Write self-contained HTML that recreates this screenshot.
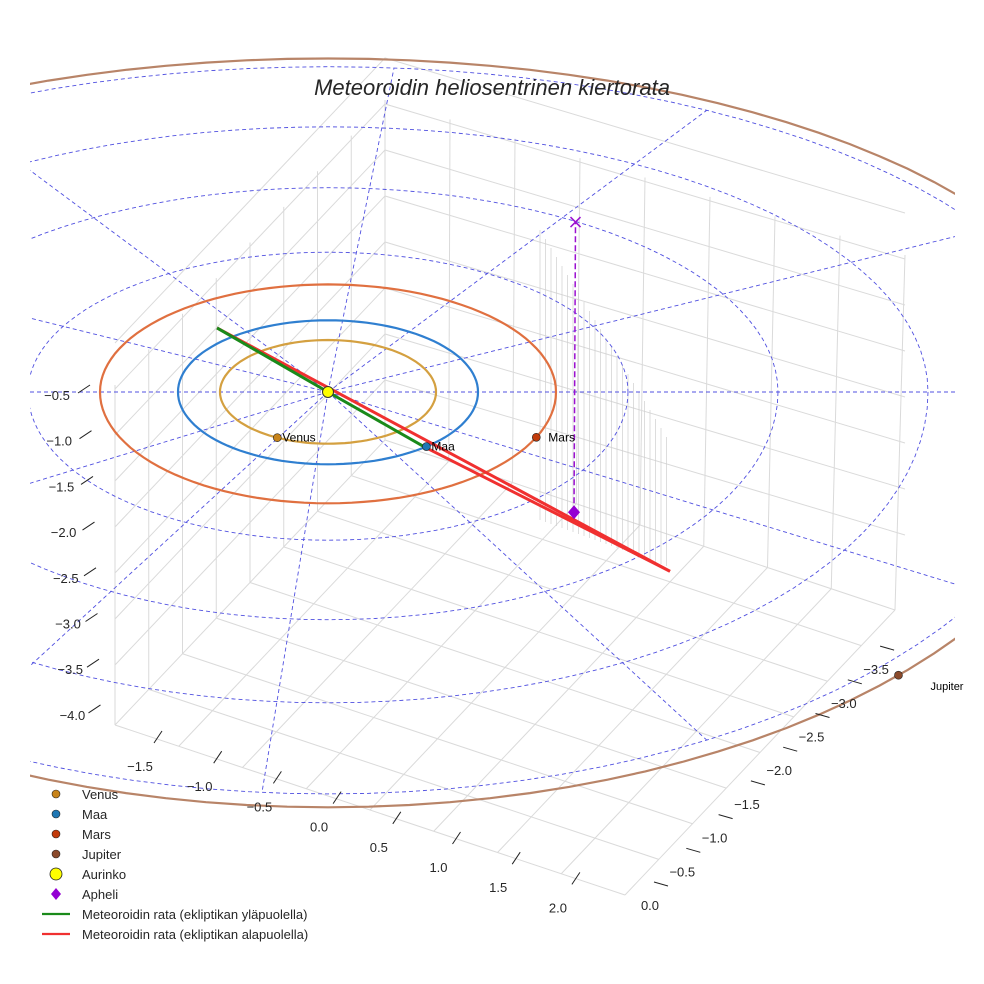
<!DOCTYPE html>
<html><head><meta charset="utf-8"><style>
body{margin:0;background:#fff}
svg{display:block}
text{font-family:"Liberation Sans",sans-serif}
</style></head><body>
<svg id="chart" width="984" height="984" viewBox="0 0 984 984">
<defs><clipPath id="plotclip"><rect x="30" y="0" width="925" height="984"/></clipPath></defs>
<rect width="984" height="984" fill="#fff"/>
<g id="box"></g>
<g id="rings" clip-path="url(#plotclip)"></g>
<g id="orbits" clip-path="url(#plotclip)"></g>
<g id="met"></g>
<g id="marks"></g>
<g id="ticks"></g>
<text x="492" y="95" text-anchor="middle" font-size="22" font-style="italic" fill="#262626">Meteoroidin heliosentrinen kiertorata</text>
<g id="legend"></g>
</svg>
<script>
// data
const planetNames = ["Venus","Maa","Mars","Jupiter"];
const planetRadius = [0.72,1.0,1.52,5.2];
const planetAngle = [118,49,24,43];
const planetColor = ["#c8841a","#1f77b4","#c23b0b","#8b4a2b"];
const orbitColor = ["#d4a040","#2f7fd0","#e07040","#b88468"];
const ringRadius = [2,3,4,5.05];
const spokeAngle = [0,30,60,95,120,150,180,210,240,275,300,330];
const metUpper = [[-0.74,-0.89,0],[2.28,2.49,0]];
const metLower = [[2.28,2.49,0],[0.64,0.76,0]];
const metAbove = [[0.64,0.76,0],[0,0,0],[-0.74,-0.89,0]];
const apheli = [1.64,1.67,0];
const apheliTop = [1.65,-2.36,0];
const zTicks = ["−0.5","−1.0","−1.5","−2.0","−2.5","−3.0","−3.5","−4.0"];
const xTicks = ["−1.5","−1.0","−0.5","0.0","0.5","1.0","1.5","2.0"];
const yTicks = ["0.0","−0.5","−1.0","−1.5","−2.0","−2.5","−3.0","−3.5"];

const NS="http://www.w3.org/2000/svg";
const CX=328,CY=392,SX=150,SY=72,SZ=128;
function proj(x,y,z){return [CX+SX*x, CY+SY*y - SZ*z];}
function polar(r,deg){
  const a=deg*Math.PI/180, c=Math.cos(a), s=Math.sin(a);
  const ry = s<0 ? (0.49-0.012*r) : (0.47+0.012*r);
  return [CX+SX*r*c, CY+SX*r*ry*s*(SY/SX)/0.48];
}
function mk(tag,attrs,parent){const e=document.createElementNS(NS,tag);for(const k in attrs)e.setAttribute(k,attrs[k]);parent.appendChild(e);return e;}
function ringPath(r){
  let d="";for(let a=0;a<=360;a+=3){const p=polar(r,a);d+=(a?"L":"M")+p[0].toFixed(1)+","+p[1].toFixed(1);}return d;}

// box grid
const box=document.getElementById('box');
const F0=[625,895],F1=[115,725],F2=[895,610],F3=[385,440];
function lerp(a,b,t){return [a[0]+(b[0]-a[0])*t,a[1]+(b[1]-a[1])*t];}
for(let i=0;i<=8;i++){
  const t=i/8;
  let a=lerp(F1,F0,t),b=lerp(F3,F2,t);
  let l=mk('line',{x1:a[0],y1:a[1],x2:b[0],y2:b[1],stroke:'#dadada','stroke-width':1},box);
  
  
  a=lerp(F0,F2,t);b=lerp(F1,F3,t);
  l=mk('line',{x1:a[0],y1:a[1],x2:b[0],y2:b[1],stroke:'#dadada','stroke-width':1},box);
  
  
}
const H=340;
for(let i=0;i<=8;i++){
  const t=i/8;
  let a=lerp(F1,F3,t);
  let l=mk('line',{x1:a[0],y1:a[1],x2:a[0],y2:a[1]-H,stroke:'#dadada','stroke-width':1},box);
  
  
  a=lerp(F3,F2,t);
  l=mk('line',{x1:a[0],y1:a[1],x2:a[0]+10*t,y2:a[1]-H-15*t,stroke:'#dadada','stroke-width':1},box);
  
  
}
for(let j=0;j<=7;j++){
  const dy=j*46;
  let l=mk('polyline',{points:`${F1[0]},${F1[1]-dy-60} ${F3[0]},${F3[1]-dy-60} ${F2[0]+10},${F2[1]-dy-75}`,fill:'none',stroke:'#dadada','stroke-width':1},box);
  
  
}
// drop lines
for(let i=0;i<24;i++){
  const x=540+i*5.5, top=230+i*9, bot=520+i*2;
  let l=mk('line',{x1:x,y1:top,x2:x,y2:bot,stroke:'#cfcfcf','stroke-width':0.7},box);
  
  
}

// rings & spokes
const rings=document.getElementById('rings');
ringRadius.forEach(r=>{
  const p=mk('path',{d:ringPath(r),fill:'none',stroke:'#5050e0','stroke-width':0.9,'stroke-dasharray':'4,3'},rings);
  
  
});
spokeAngle.forEach(a=>{
  const p=polar(a==0||a==180?6.5:5.05,a);
  const l=mk('line',{x1:CX,y1:CY,x2:p[0],y2:p[1],stroke:'#5050e0','stroke-width':0.9,'stroke-dasharray':'4,3'},rings);
  
  
});

// planet orbits
const orbits=document.getElementById('orbits');
planetRadius.forEach((r,i)=>{
  const p=mk('path',{d:ringPath(r),fill:'none',stroke:orbitColor[i],'stroke-width':2.2},orbits);
  
  
});

// meteoroid
const met=document.getElementById('met');
const pts=a=>a.map(p=>proj(...p).map(v=>v.toFixed(1)).join(',')).join(' ');
let ml=mk('polyline',{points:pts(metUpper),fill:'none',stroke:'#f03030','stroke-width':3},met);


ml=mk('polyline',{points:pts(metLower),fill:'none',stroke:'#f03030','stroke-width':3},met);


ml=mk('polyline',{points:pts(metAbove),fill:'none',stroke:'#1a8a1a','stroke-width':3},met);



// bodies
const marks=document.getElementById('marks');
const ap=proj(...apheli), at=proj(...apheliTop);
let e=mk('line',{x1:ap[0],y1:ap[1],x2:at[0],y2:at[1],stroke:'#9b10d0','stroke-width':1.5,'stroke-dasharray':'6,3'},marks);


e=mk('path',{d:`M${at[0]-5},${at[1]-5}L${at[0]+5},${at[1]+5}M${at[0]+5},${at[1]-5}L${at[0]-5},${at[1]+5}`,stroke:'#9b10d0','stroke-width':1.5},marks);


e=mk('path',{d:`M${ap[0]},${ap[1]-7}L${ap[0]+6},${ap[1]}L${ap[0]},${ap[1]+7}L${ap[0]-6},${ap[1]}Z`,fill:'#9400d3'},marks);


planetNames.forEach((n,i)=>{
  const p=polar(planetRadius[i],planetAngle[i]);
  let c=mk('circle',{cx:p[0],cy:p[1],r:4,fill:planetColor[i],stroke:'#222','stroke-width':0.6},marks);
  
  
  let t=mk('text',{x:p[0]+(i==3?32:(i==2?12:5)),y:p[1]+(i==3?15:4),'font-size':i==3?11:12,fill:'#000'},marks);
  t.textContent=n;
  
  
});
e=mk('circle',{cx:CX,cy:CY,r:5.5,fill:'#ffff00',stroke:'#333','stroke-width':1},marks);



// ticks
const tk=document.getElementById('ticks');
function tick(lbl,x,y,tx1,ty1,tx2,ty2,name){
  let l=mk('line',{x1:tx1,y1:ty1,x2:tx2,y2:ty2,stroke:'#222','stroke-width':1},tk);
  
  
  let t=mk('text',{x:x,y:y,'font-size':13,fill:'#262626','text-anchor':'middle'},tk);
  t.textContent=lbl;
  
  
}
zTicks.forEach((l,i)=>{const y=395+i*45.7;tick(l,57+i*2.2,y+5,78+i*1.5,y-2,90+i*1.5,y-10,'z');});
xTicks.forEach((l,i)=>{const x=140+i*59.7,y=767+i*20.2;tick(l,x,y+4,x+14,y-24,x+22,y-36,'x');});
yTicks.forEach((l,i)=>{const x=650+i*32.3,y=906-i*33.7;tick(l,x,y+4,x+4,y-24,x+18,y-20,'y');});

// legend
const lg=document.getElementById('legend');
const legItems=[["Venus","dot","#c8841a"],["Maa","dot","#1f77b4"],["Mars","dot","#c23b0b"],["Jupiter","dot","#8b4a2b"],["Aurinko","sun","#ffff00"],["Apheli","dia","#9400d3"],["Meteoroidin rata (ekliptikan yläpuolella)","line","#1a8a1a"],["Meteoroidin rata (ekliptikan alapuolella)","line","#f03030"]];
legItems.forEach((it,i)=>{
  const y=794+i*20;
  const g=mk('g',{},lg);
  
  
  if(it[1]=="dot")mk('circle',{cx:56,cy:y,r:4,fill:it[2],stroke:'#222','stroke-width':0.6},g);
  if(it[1]=="sun")mk('circle',{cx:56,cy:y,r:6,fill:it[2],stroke:'#222','stroke-width':0.8},g);
  if(it[1]=="dia")mk('path',{d:`M56,${y-6}L61,${y}L56,${y+6}L51,${y}Z`,fill:it[2]},g);
  if(it[1]=="line")mk('line',{x1:42,y1:y,x2:70,y2:y,stroke:it[2],'stroke-width':2.2},g);
  const t=mk('text',{x:82,y:y+5,'font-size':13,fill:'#262626'},g);
  t.textContent=it[0];
});
</script>
</body></html>
